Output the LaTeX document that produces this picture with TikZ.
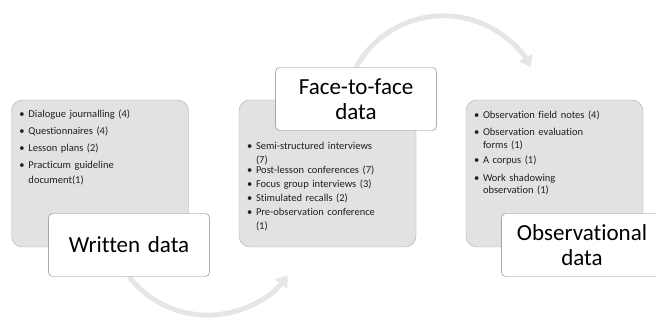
\documentclass[tikz,border=0pt]{standalone}
\usepackage{fontspec}
\setmainfont{Carlito}[Ligatures=NoCommon]
\usetikzlibrary{positioning,arrows.meta,backgrounds}
\tikzset{>=latex}

\definecolor{boxgray}{HTML}{E2E2E2}
\definecolor{edgegray}{HTML}{ADADAD}
\definecolor{arcgray}{HTML}{E6E6E6}

\newlength{\itemgap}
\newcommand{\entry}[1]{\ifhmode\par\vskip\itemgap\fi\noindent\makebox[9pt][l]{\textbullet}\parbox[t]{155pt}{\raggedright#1}}

\begin{document}
\begin{tikzpicture}[x=1pt,y=1pt,
    groupbox/.style={draw=edgegray, fill=boxgray, rounded corners=11pt, minimum width=177pt, minimum height=147pt},
    datalabel/.style={draw=gray, fill=white, rounded corners=4pt, minimum width=158pt, minimum height=63pt, text width=154pt, align=center, font=\fontsize{23}{25}\selectfont},
    itemlist/.style={text width=170pt, align=left, inner sep=0pt, text=black!88},
    flowarc/.style={arcgray, line width=5pt, -{Triangle[width=15pt,length=11pt]}}]
  \useasboundingbox (0,0) rectangle (656,320);
  \node[groupbox] (g1) at (100,146.5) {};
  \node[groupbox, right of=g1, node distance=227.5pt] (g2) {};
  \node[groupbox, right of=g2, node distance=227pt] (g3) {};
  \node[itemlist, below right=1pt and 8pt of g1.north west, font=\fontsize{10.5}{15}\selectfont\setlength{\itemgap}{2pt}] (l1)
    {\entry{Dialogue journalling (4)}\entry{Questionnaires (4)}\entry{Lesson plans (2)}\entry{Practicum guideline\\document(1)}};
  \node[itemlist, above right=16pt and 8pt of g2.south west, font=\fontsize{10.5}{14}\selectfont\setlength{\itemgap}{0pt}] (l2)
    {\entry{Semi-structured interviews\\(7)}\entry{Post-lesson conferences (7)}\entry{Focus group interviews (3)}\entry{Stimulated recalls (2)}\entry{Pre-observation conference\\(1)}};
  \node[itemlist, below right=1pt and 8pt of g3.north west, font=\fontsize{10.5}{12.5}\selectfont\setlength{\itemgap}{5pt}] (l3)
    {\entry{Observation field notes (4)}\entry{Observation evaluation\\forms (1)}\entry{A corpus (1)}\entry{Work shadowing\\observation (1)}};
  \node[datalabel, xshift=29pt, yshift=-71.5pt] (written) at (g1) {Written data};
  \node[datalabel, xshift=28.5pt, yshift=74.5pt] (face) at (g2) {Face-to-face\\data};
  \node[datalabel, xshift=27.5pt, yshift=-71.5pt] (observed) at (g3) {Observational\\data};
  \begin{scope}[on background layer]
    \draw[flowarc] (written.south) arc[start angle=218, end angle=323, radius=100];
    \draw[flowarc] (face.north) arc[start angle=151, end angle=29, radius=100];
  \end{scope}
\end{tikzpicture}
\end{document}
